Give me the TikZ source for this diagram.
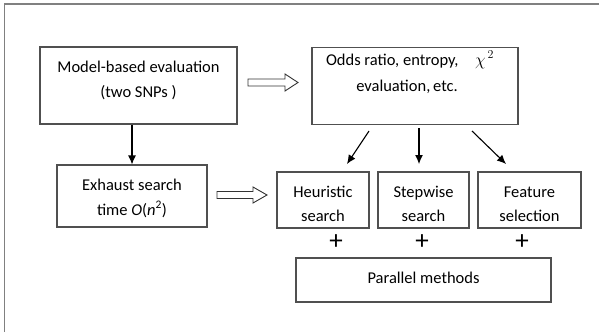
\documentclass[tikz,border=0pt]{standalone}
\usepackage{fontspec}
\setmainfont{Carlito}
\usetikzlibrary{arrows.meta}
\definecolor{boxgray}{HTML}{505050}
\begin{document}
\begin{tikzpicture}[x=1pt,y=-1pt,
  box/.style={draw=boxgray, line width=1.1pt, inner sep=0pt},
  txt/.style={anchor=base, inner sep=0pt, font=\fontsize{16.5}{20}\selectfont},
  arr/.style={line width=1.1pt, -{Latex[length=9pt,width=8pt]}},
  hollow/.style={draw=black!80, line width=0.9pt, fill=white},
  plus/.style={font=\fontsize{27}{27}\selectfont, inner sep=0pt}]
\useasboundingbox (0,0) rectangle (599,332);
% outer frame (open to right and bottom)
\draw[line width=1.2pt, draw=gray] (4.5,332) -- (4.5,4) -- (599,4);

% boxes
\node[box, minimum width=197pt, minimum height=77pt] (m) at (138.5,85.5) {};
\node[box, minimum width=206pt, minimum height=77.5pt] (o) at (415,86) {};
\node[box, minimum width=150pt, minimum height=62pt] (e) at (132,196) {};
\node[box, minimum width=92pt, minimum height=56pt] (h) at (323,200) {};
\node[box, minimum width=91pt, minimum height=56pt] (s) at (423.5,200) {};
\node[box, minimum width=103pt, minimum height=56pt] (f) at (529.5,200) {};
\node[box, minimum width=255pt, minimum height=44pt] (p) at (423.5,280) {};

% texts
\node[txt] (m1) at (138.5,72) {Model-based evaluation};
\node[txt] (m2) at (138.5,97) {(two SNPs )};
\node[txt] (o1) at (410,65) {Odds ratio, entropy,\quad$\chi^{\,2}$};
\node[txt] (o2) at (407,91) {evaluation,\,etc.};
\node[txt] (e1) at (132,190) {Exhaust search};
\node[txt] (e2) at (132,215) {time \textit{O}(\textit{n}\textsuperscript{2})};
\node[txt] (h1) at (323,197.5) {Heuristic};
\node[txt] (h2) at (323,221.5) {search};
\node[txt] (s1) at (423.5,197.5) {Stepwise};
\node[txt] (s2) at (423.5,221.5) {search};
\node[txt] (f1) at (529.5,197.5) {Feature};
\node[txt] (f2) at (529.5,221.5) {selection};
\node[txt] (p1) at (423.5,283) {Parallel methods};

% plus signs
\node[plus] (pl1) at (336,242) {+};
\node[plus] (pl2) at (422,242) {+};
\node[plus] (pl3) at (522,242) {+};

% arrows
\draw[arr] (e.north |- m.south) -- (e.north);
\coordinate (a1s) at (369,131);
\coordinate (a1e) at (347,164);
\coordinate (a2s) at (419,128);
\coordinate (a2e) at (419,164);
\coordinate (a3s) at (472,131);
\coordinate (a3e) at (506,164);
\draw[arr] (a1s) -- (a1e);
\draw[arr] (a2s) -- (a2e);
\draw[arr] (a3s) -- (a3e);

% hollow arrows
\draw[hollow] (248,79) -- (285,79) -- (285,74) -- (298,82.5) -- (285,91) -- (285,86) -- (248,86) -- cycle;
\draw[hollow] (217,191.5) -- (253,191.5) -- (253,187) -- (267,195) -- (253,203) -- (253,198.5) -- (217,198.5) -- cycle;
\end{tikzpicture}
\end{document}
